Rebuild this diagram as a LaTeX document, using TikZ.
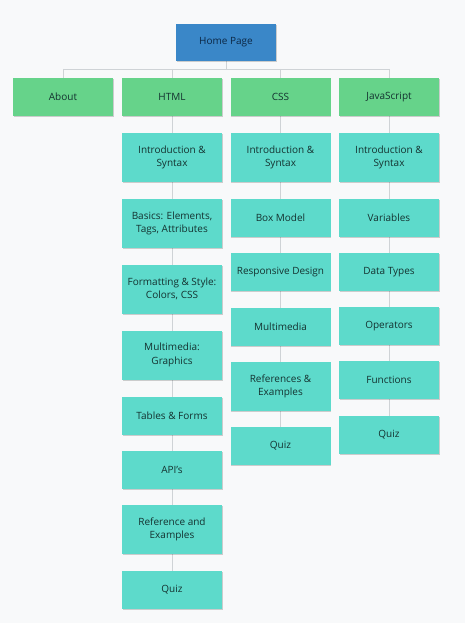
\documentclass[tikz,border=0pt]{standalone}
\usepackage{fontspec}
\setmainfont{Open Sans}
\usetikzlibrary{shadows}
\definecolor{bgc}{HTML}{F8F9FA}
\definecolor{homec}{HTML}{3A87C8}
\definecolor{greenc}{HTML}{66D38A}
\definecolor{tealc}{HTML}{5DDACB}
\definecolor{linec}{HTML}{CFD3D6}
\definecolor{txtc}{HTML}{143230}
\definecolor{hometxt}{HTML}{0C2744}
\tikzset{
  base/.style={rectangle, inner sep=0pt, minimum width=100pt, align=center,
    font=\fontsize{10}{13.5}\selectfont, text=txtc,
    drop shadow={shadow xshift=0.8pt, shadow yshift=-1pt, opacity=0.18, fill=black}},
  homebox/.style={base, fill=homec, text=hometxt, minimum height=37pt},
  topbox/.style={base, fill=greenc, minimum height=38pt},
  onebox/.style={base, fill=tealc, minimum height=38pt},
  twobox/.style={base, fill=tealc, minimum height=49pt},
  conn/.style={draw=linec, line width=0.9pt}
}
\begin{document}
\begin{tikzpicture}[x=1pt,y=-1pt]
\fill[bgc] (0,0) rectangle (465,623);
\useasboundingbox (0,0) rectangle (465,623);

\coordinate (bar) at (226,69);
\coordinate (barL) at (63,69);
\coordinate (barR) at (389,69);
\coordinate (barH) at (172,69);
\coordinate (barC) at (280.5,69);

% connectors first
\draw[conn] (226,61) -- (bar);
\draw[conn] (barL) -- (barR);
\draw[conn] (barL) -- (63,78);
\draw[conn] (barH) -- (172,78);
\draw[conn] (barC) -- (280.5,78);
\draw[conn] (barR) -- (389,78);
\draw[conn] (172,116) -- (172,590);
\draw[conn] (280.5,116) -- (280.5,445);
\draw[conn] (389,116) -- (389,434);

\node[homebox] (home) at (226,42.5) {Home Page};

\node[topbox] (about) at (63,97) {About};
\node[topbox] (html) at (172,97) {HTML};
\node[topbox] (css) at (280.5,97) {CSS};
\node[topbox] (js) at (389,97) {JavaScript};

% HTML column
\node[twobox] (h1) at (172,157.5) {Introduction \&\\Syntax};
\node[twobox] (h2) at (172,223.5) {Basics: Elements,\\Tags, Attributes};
\node[twobox] (h3) at (172,289) {Formatting \& Style:\\Colors, CSS};
\node[twobox] (h4) at (172,355) {Multimedia:\\Graphics};
\node[onebox] (h5) at (172,416) {Tables \& Forms};
\node[onebox] (h6) at (172,470) {API's};
\node[twobox] (h7) at (172,529.5) {Reference and\\Examples};
\node[onebox] (h8) at (172,590) {Quiz};

% CSS column
\node[twobox] (c1) at (280.5,157.5) {Introduction \&\\Syntax};
\node[onebox] (c2) at (280.5,218) {Box Model};
\node[onebox] (c3) at (280.5,272) {Responsive Design};
\node[onebox] (c4) at (280.5,326.5) {Multimedia};
\node[twobox] (c5) at (280.5,386.5) {References \&\\Examples};
\node[onebox] (c6) at (280.5,445.5) {Quiz};

% JS column
\node[twobox] (j1) at (389,157.5) {Introduction \&\\Syntax};
\node[onebox] (j2) at (389,218) {Variables};
\node[onebox] (j3) at (389,272) {Data Types};
\node[onebox] (j4) at (389,326) {Operators};
\node[onebox] (j5) at (389,380) {Functions};
\node[onebox] (j6) at (389,434.5) {Quiz};
\end{tikzpicture}
\end{document}
